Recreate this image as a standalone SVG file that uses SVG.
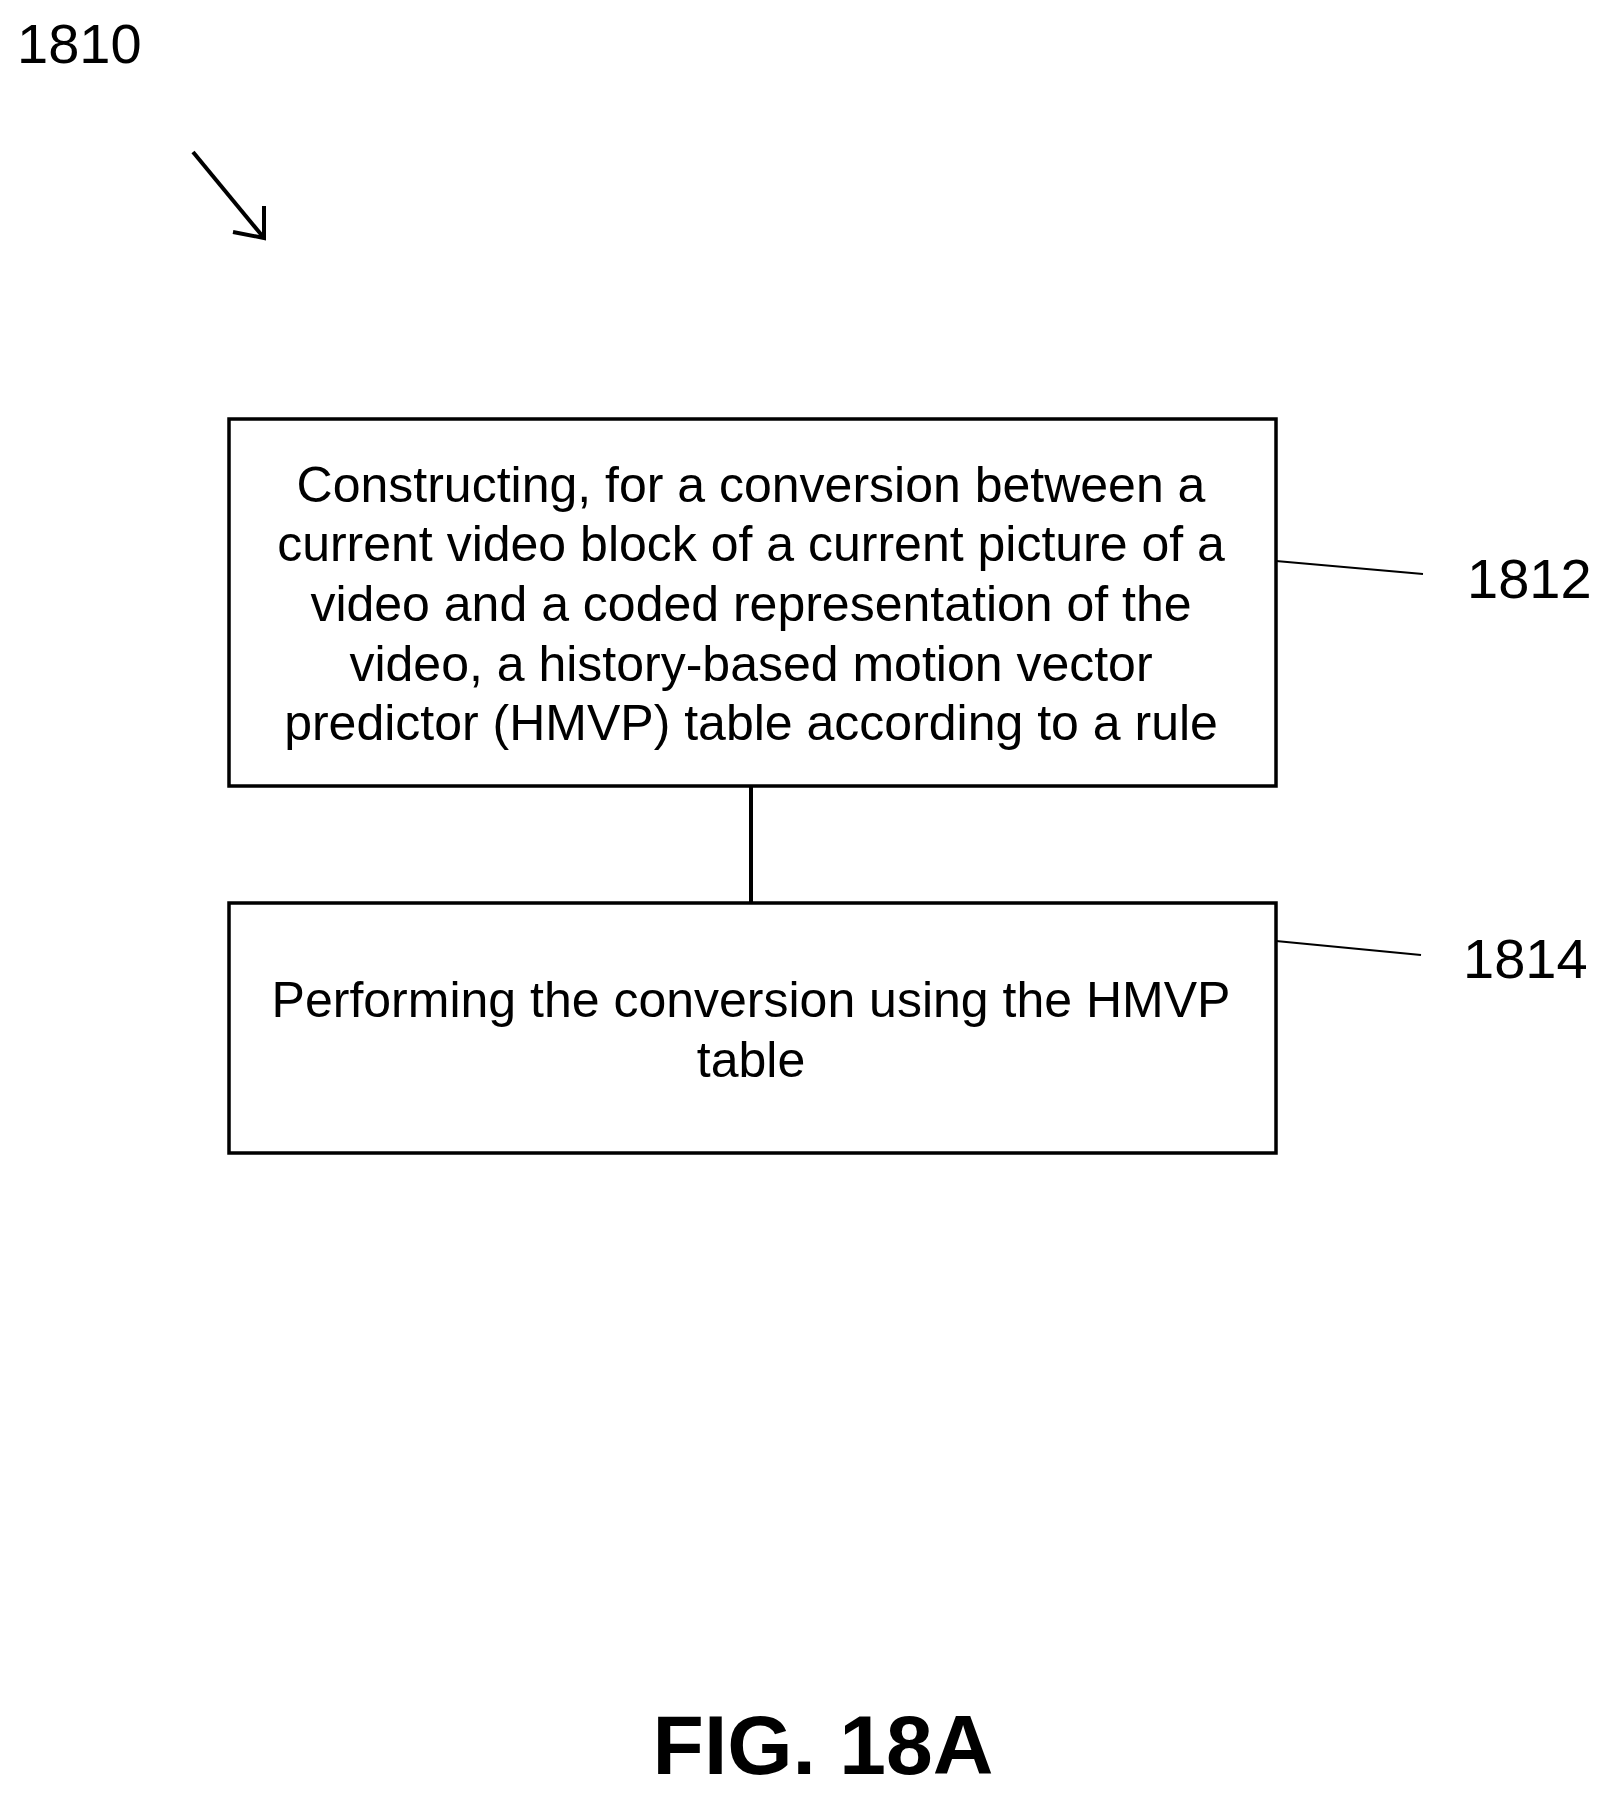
<svg xmlns="http://www.w3.org/2000/svg" width="1616" height="1805" viewBox="0 0 1616 1805">
<style>
text{font-family:"Liberation Sans",Arial,sans-serif;fill:#000}
.b{font-size:50px;text-anchor:middle}
.l{font-size:56px}
.box{fill:#fff;stroke:#000;stroke-width:3.5}
.ln{stroke:#000;stroke-width:2;fill:none}
</style>
<rect width="1616" height="1805" fill="#fff"/>
<text class="l" x="17" y="63">1810</text>
<g id="arrow" fill="none" stroke="#000" stroke-width="4"><line x1="193" y1="152" x2="264" y2="238"/><polyline points="233,232 264,238 264,206"/></g>
<g id="connectors">
<line x1="751" y1="786" x2="751" y2="905" stroke="#000" stroke-width="4"/>
<line class="ln" x1="1276" y1="561" x2="1423" y2="574"/>
<line class="ln" x1="1276" y1="941" x2="1421" y2="955"/>
</g>
<g id="n1812">
<rect class="box" x="229" y="419" width="1047" height="367"/>
<text class="b" x="751" y="502">Constructing, for a conversion between a</text>
<text class="b" x="751" y="561">current video block of a current picture of a</text>
<text class="b" x="751" y="621">video and a coded representation of the</text>
<text class="b" x="751" y="681">video, a history-based motion vector</text>
<text class="b" x="751" y="740">predictor (HMVP) table according to a rule</text>
<text class="l" x="1467" y="598">1812</text>
</g>
<g id="n1814">
<rect class="box" x="229" y="903" width="1047" height="250"/>
<text class="b" x="751" y="1017">Performing the conversion using the HMVP</text>
<text class="b" x="751" y="1077">table</text>
<text class="l" x="1463" y="978">1814</text>
</g>
<text x="823" y="1774" font-size="84" font-weight="bold" text-anchor="middle">FIG. 18A</text>
</svg>
